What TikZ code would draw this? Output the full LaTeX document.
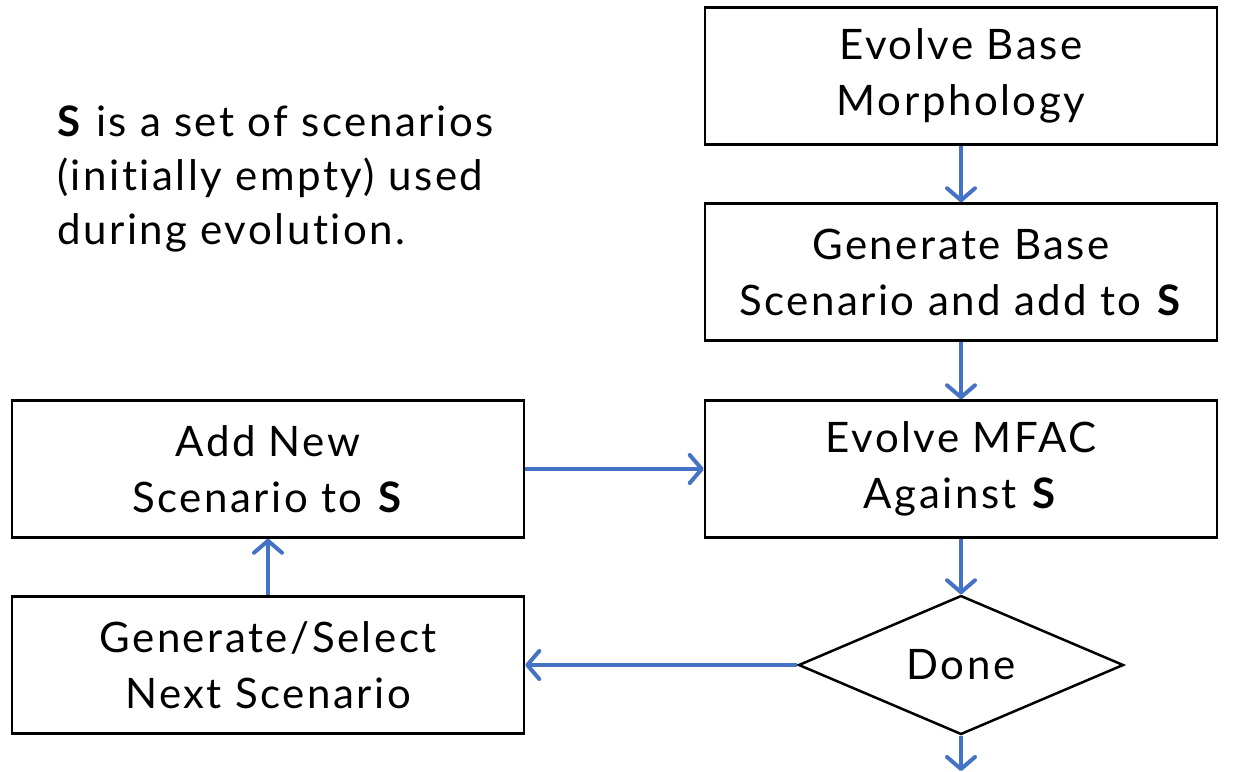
\documentclass[tikz,border=0pt]{standalone}
\usepackage{fontspec}
\setmainfont{Lato}[LetterSpace=6, Ligatures=NoCommon]
\usepackage{tikz}
\usetikzlibrary{shapes.geometric,arrows.meta}
\definecolor{flowblue}{HTML}{4472C4}

\begin{document}
\begin{tikzpicture}[x=1pt,y=-1pt]
	\tikzset{
		procbox/.style={draw, line width=2.5pt, minimum width=512pt, minimum height=137pt, align=center, inner sep=0pt, font=\fontsize{42}{56}\selectfont},
		flow/.style={draw=flowblue, line width=4pt, -{Straight Barb[length=12pt, width=28pt, round]}}
	}
	\useasboundingbox (0,0) rectangle (1233,771);
	\node[procbox] (M) at (961,76) {Evolve Base\\Morphology};
	\node[procbox] (G) at (961,272) {Generate Base\\Scenario and add to \textbf{S}};
	\node[procbox] (F) at (961,469) {Evolve MFAC\\Against \textbf{S}};
	\node[diamond, draw, line width=2.5pt, minimum width=325pt, minimum height=136pt, inner sep=0pt, font=\fontsize{42}{56}\selectfont] (D) at (961,665) {Done};
	\node[procbox] (A) at (268,469) {Add New\\Scenario to \textbf{S}};
	\node[procbox] (N) at (268,665) {Generate/Select\\Next Scenario};
	\coordinate (E) at (961,771);
	\node[anchor=north west, align=left, inner sep=0pt, font=\fontsize{42}{54}\selectfont] (T) at (57,106) {\textbf{S} is a set of scenarios\\(initially empty) used\\during evolution.};
	\draw[flow] (M) -- (G);
	\draw[flow] (G) -- (F);
	\draw[flow] (F) -- (D);
	\draw[flow] (D) -- (E);
	\draw[flow] (D) -- (N);
	\draw[flow] (N) -- (A);
	\draw[flow] (A) -- (F);
\end{tikzpicture}
\end{document}
